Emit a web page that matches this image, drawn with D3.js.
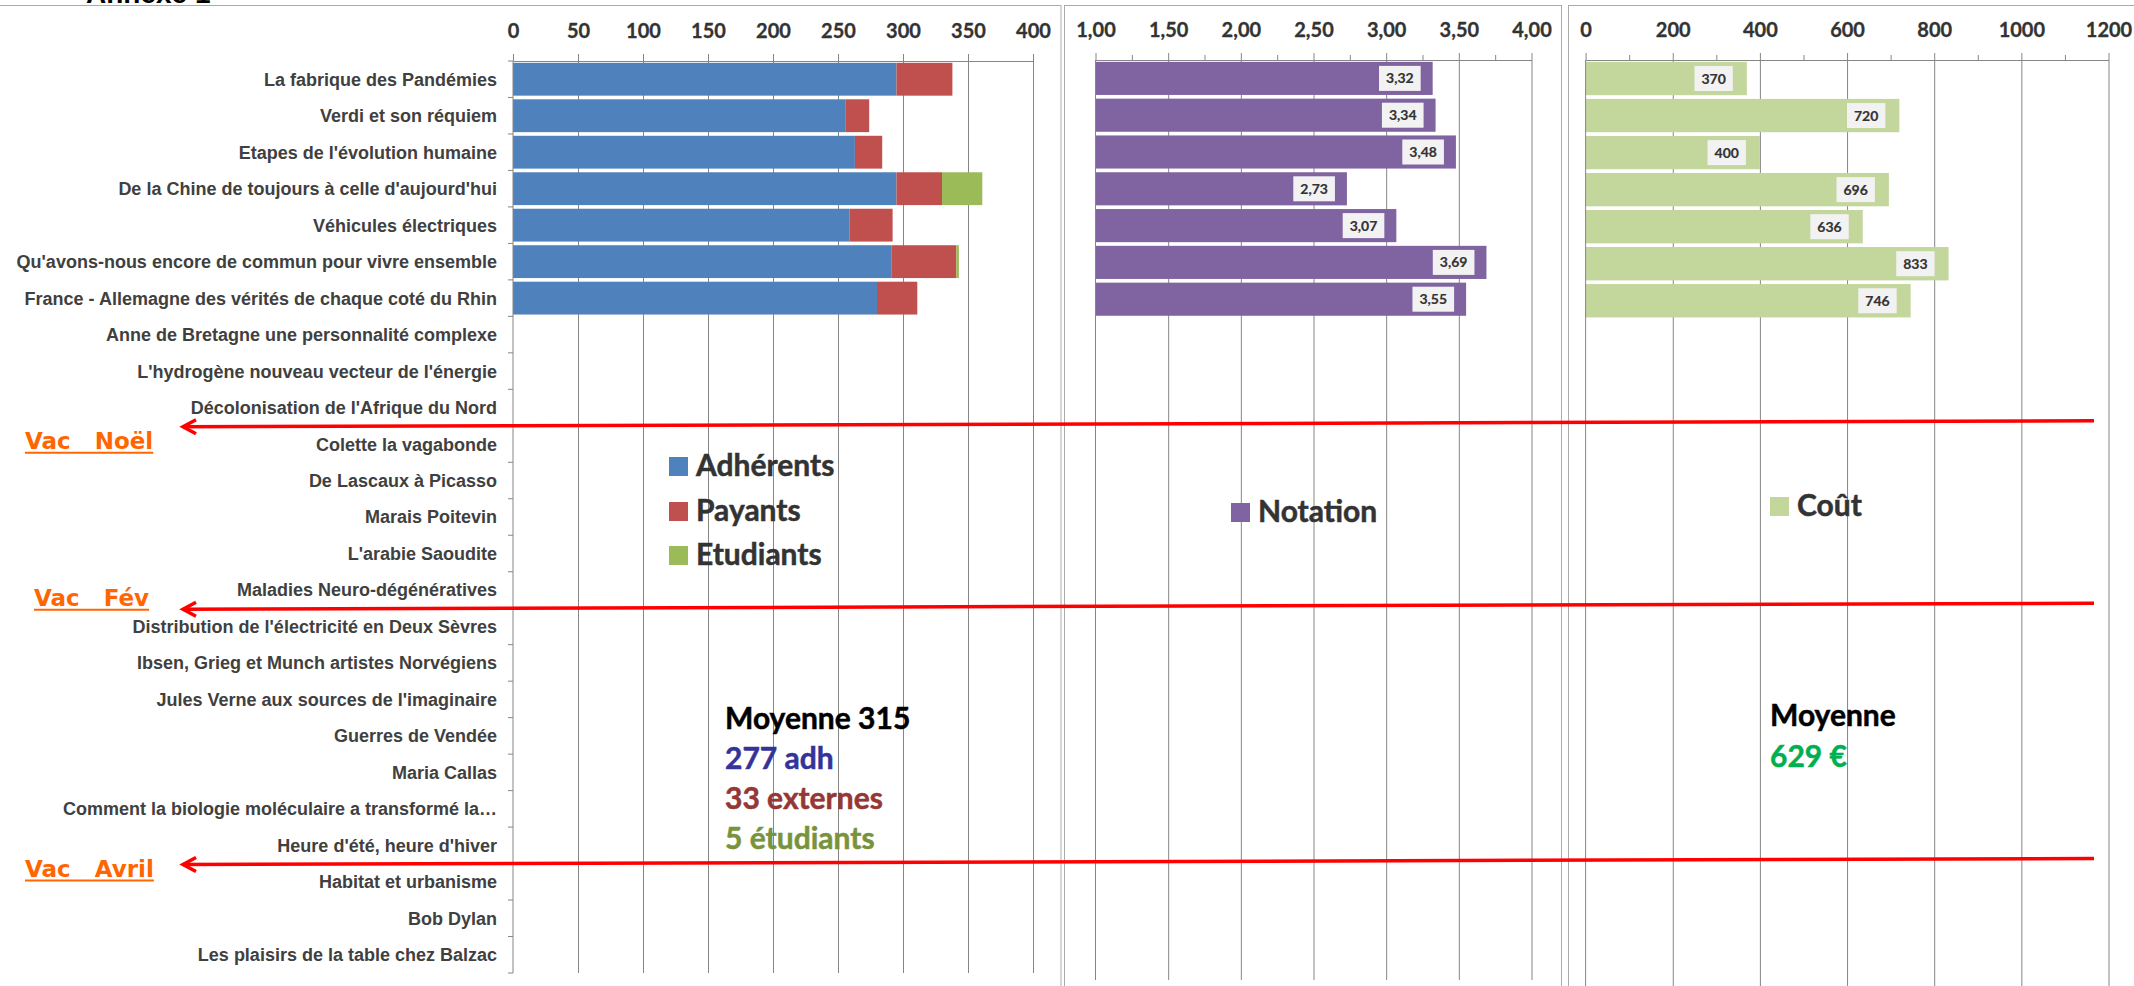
<!DOCTYPE html>
<html>
<head>
<meta charset="utf-8">
<script src="https://cdn.jsdelivr.net/npm/d3@7"></script>
<style>
body { margin: 0; background: #fff; }
svg { display: block; }
.cat text { font-family: "Liberation Sans", Arial, sans-serif; font-weight: bold; font-size: 18px; fill: #404040; }
.ticklab text { font-family: Lato, sans-serif; font-weight: bold; font-size: 20px; fill: #333; stroke: #333; stroke-width: 0.3px; }
.big { font-family: Lato, sans-serif; font-weight: bold; font-size: 30px; stroke-width: 0.5px; }
.datalab { font-family: Lato, sans-serif; font-weight: bold; font-size: 14px; fill: #333; stroke: #333; stroke-width: 0.2px; }
.vac { font-family: "DejaVu Sans", sans-serif; font-weight: bold; font-size: 23px; fill: #ff6600; white-space: pre; }
</style>
</head>
<body>
<div id="chart"></div>
<script>
// categories (conferences), top to bottom
var categories = [
  "La fabrique des Pandémies",
  "Verdi et son réquiem",
  "Etapes de l'évolution humaine",
  "De la Chine de toujours à celle d'aujourd'hui",
  "Véhicules électriques",
  "Qu'avons-nous encore de commun pour vivre ensemble",
  "France - Allemagne des vérités de chaque coté du Rhin",
  "Anne de Bretagne une personnalité complexe",
  "L'hydrogène nouveau vecteur de l'énergie",
  "Décolonisation de l'Afrique du Nord",
  "Colette la vagabonde",
  "De Lascaux à Picasso",
  "Marais Poitevin",
  "L'arabie Saoudite",
  "Maladies Neuro-dégénératives",
  "Distribution de l'électricité en Deux Sèvres",
  "Ibsen, Grieg et Munch artistes Norvégiens",
  "Jules Verne aux sources de l'imaginaire",
  "Guerres de Vendée",
  "Maria Callas",
  "Comment la biologie moléculaire a transformé la…",
  "Heure d'été, heure d'hiver",
  "Habitat et urbanisme",
  "Bob Dylan",
  "Les plaisirs de la table chez Balzac"
];

// values for the conferences already held
var adherents = [295, 256, 263, 295, 259, 291, 280];
var payants   = [43, 18, 21, 35, 33, 50, 31];
var etudiants = [0, 0, 0, 31, 0, 2, 0];
var notation  = [3.32, 3.34, 3.48, 2.73, 3.07, 3.69, 3.55];
var cout      = [370, 720, 400, 696, 636, 833, 746];

// tick values
var ticks1 = [0, 50, 100, 150, 200, 250, 300, 350, 400];
var ticks2 = [1, 1.5, 2, 2.5, 3, 3.5, 4];
var minor2 = [1.25, 1.75, 2.25, 2.75, 3.25, 3.75];
var ticks3 = [0, 200, 400, 600, 800, 1000, 1200];
var minor3 = [100, 300, 500, 700, 900, 1100];

// school holidays, placed above these conferences
var vacations = ["Vac   Noël", "Vac   Fév", "Vac   Avril"];
var vacBefore = ["Colette la vagabonde", "Distribution de l'électricité en Deux Sèvres", "Habitat et urbanisme"];

var svgWidth = 2134, svgHeight = 986;
var gridColor = "#868686";
var frameColor = "#ababab";

var svg = d3.select("#chart").append("svg")
    .attr("width", svgWidth)
    .attr("height", svgHeight);

// page title, cut off at the top
svg.append("text")
    .attr("x", 86).attr("y", 3)
    .style("font-family", "Liberation Sans, Arial, sans-serif")
    .style("font-weight", "bold")
    .style("font-size", "28px")
    .style("fill", "#000")
    .text("Annexe 1");

// chart frames
[[-2, 1063], [1064.5, 497], [1568.5, 600]].forEach(function(f) {
  svg.append("rect")
      .attr("x", f[0]).attr("y", 5.5)
      .attr("width", f[1]).attr("height", 1100)
      .style("fill", "none")
      .style("stroke", frameColor)
      .style("stroke-width", 1);
});

var fmtComma = function(d) { return d3.format(".2f")(d).replace(".", ","); };

function makePanel(p) {
  var x = d3.scaleLinear().domain(p.domain).range(p.xRange);
  var y = d3.scaleBand().domain(categories).range(p.yRange)
      .paddingInner(0.1).paddingOuter(0.05);
  var top = p.yRange[0];
  var h = p.yRange[1] - p.yRange[0];
  var g = svg.append("g");

  // gridlines
  g.append("g")
      .attr("transform", `translate(0, ${top})`)
      .call(d3.axisTop(x).tickValues(p.major.slice(1)).tickSize(-h).tickFormat(""))
      .call(function(s) { s.select(".domain").remove(); })
      .selectAll("line").style("stroke", gridColor);

  // minor ticks
  if (p.minor) {
    g.append("g")
        .attr("transform", `translate(0, ${top})`)
        .call(d3.axisTop(x).tickValues(p.minor).tickSize(5).tickFormat(""))
        .call(function(s) { s.select(".domain").remove(); })
        .selectAll("line").style("stroke", gridColor);
  }

  // major ticks + labels
  var ax = g.append("g")
      .attr("class", "ticklab")
      .attr("transform", `translate(0, ${top})`)
      .call(d3.axisTop(x).tickValues(p.major).tickSize(7).tickSizeOuter(0).tickPadding(16).tickFormat(p.fmt));
  ax.select(".domain").style("stroke", gridColor);
  ax.selectAll("line").style("stroke", gridColor);
  ax.selectAll("text").attr("dy", 0);

  var barLayer = g.append("g");

  // category axis line
  g.append("line")
      .attr("x1", x(p.domain[0])).attr("x2", x(p.domain[0]))
      .attr("y1", top).attr("y2", p.yRange[1])
      .style("stroke", gridColor);

  return { x: x, y: y, g: g, bars: barLayer };
}

// ---------- panel 1 : attendance ----------
var p1 = makePanel({ domain: [0, 400], xRange: [513, 1033], yRange: [61, 973], major: ticks1, fmt: d3.format("d") });

var table1 = adherents.map(function(v, i) {
  return { cat: categories[i], adh: v, pay: payants[i], etu: etudiants[i] };
});
var keys1 = ["adh", "pay", "etu"];
var colors1 = { adh: "#4f81bd", pay: "#c0504d", etu: "#9bbb59" };
var stacked = d3.stack().keys(keys1)(table1);

p1.bars.selectAll("g")
    .data(stacked)
    .enter().append("g")
    .style("fill", function(s) { return colors1[s.key]; })
    .selectAll("rect")
    .data(function(s) { return s; })
    .enter().append("rect")
    .attr("x", function(d) { return p1.x(d[0]); })
    .attr("width", function(d) { return p1.x(d[1]) - p1.x(d[0]); })
    .attr("y", function(d) { return p1.y(d.data.cat); })
    .attr("height", p1.y.bandwidth());

// category labels
var catAxis = p1.g.append("g")
    .attr("class", "cat")
    .attr("transform", `translate(${p1.x(0)}, 0)`)
    .call(d3.axisLeft(p1.y).tickSize(0).tickPadding(16));
catAxis.select(".domain").remove();
catAxis.selectAll("text").attr("dy", "0.36em");

// category boundary ticks
var gap1 = (p1.y.step() - p1.y.bandwidth()) / 2;
var bounds = categories.map(function(c) { return p1.y(c) - gap1; });
bounds.push(973);
p1.g.append("g").selectAll("line")
    .data(bounds)
    .enter().append("line")
    .attr("x1", p1.x(0) - 5).attr("x2", p1.x(0))
    .attr("y1", function(d) { return d; }).attr("y2", function(d) { return d; })
    .style("stroke", gridColor);

// ---------- panel 2 : rating ----------
var p2 = makePanel({ domain: [1, 4], xRange: [1095.5, 1531.5], yRange: [60, 980], major: ticks2, minor: minor2, fmt: fmtComma });

// ---------- panel 3 : cost ----------
var p3 = makePanel({ domain: [0, 1200], xRange: [1585.6, 2108.5], yRange: [60, 986], major: ticks3, minor: minor3, fmt: d3.format("d") });

function simpleBars(p, values, color, fmt, gap) {
  var rows = values.map(function(v, i) { return { cat: categories[i], v: v }; });
  var base = p.x.domain()[0];
  p.bars.selectAll("rect")
      .data(rows)
      .enter().append("rect")
      .attr("x", p.x(base))
      .attr("width", function(d) { return p.x(d.v) - p.x(base); })
      .attr("y", function(d) { return p.y(d.cat); })
      .attr("height", p.y.bandwidth())
      .style("fill", color);

  rows.forEach(function(d) {
    var lg = p.g.append("g");
    var box = lg.append("rect").style("fill", "#f2f2f2");
    var t = lg.append("text")
        .attr("class", "datalab")
        .attr("text-anchor", "middle")
        .attr("dy", "0.36em")
        .text(fmt(d.v));
    var w = t.node().getComputedTextLength() + 14;
    var cx = p.x(d.v) - gap - w / 2;
    var cy = p.y(d.cat) + p.y.bandwidth() / 2;
    t.attr("x", cx).attr("y", cy);
    box.attr("x", cx - w / 2).attr("y", cy - 12.5).attr("width", w).attr("height", 25);
  });
}

simpleBars(p2, notation, "#8064a2", fmtComma, 12);
simpleBars(p3, cout, "#c3d69b", d3.format("d"), 14);

// ---------- legends ----------
function legendItem(x, y, color, label) {
  svg.append("rect")
      .attr("x", x).attr("y", y - 19)
      .attr("width", 19).attr("height", 19)
      .style("fill", color);
  svg.append("text")
      .attr("class", "big")
      .attr("x", x + 27).attr("y", y)
      .style("fill", "#333").style("stroke", "#333")
      .text(label);
}
legendItem(669, 476, colors1.adh, "Adhérents");
legendItem(669, 521, colors1.pay, "Payants");
legendItem(669, 565, colors1.etu, "Etudiants");
legendItem(1231, 522, "#8064a2", "Notation");
legendItem(1770, 516, "#c3d69b", "Coût");

// ---------- averages ----------
var mAdh = d3.mean(adherents), mPay = d3.mean(payants), mEtu = d3.mean(etudiants);
var mCout = d3.mean(cout);
var avgLines = [
  { t: "Moyenne " + Math.round(mAdh + mPay + mEtu), c: "#000" },
  { t: Math.round(mAdh) + " adh", c: "#333399" },
  { t: Math.round(mPay) + " externes", c: "#953735" },
  { t: Math.round(mEtu) + " étudiants", c: "#77933c" }
];
avgLines.forEach(function(l, i) {
  svg.append("text").attr("class", "big")
      .attr("x", 725).attr("y", 729 + i * 40)
      .style("fill", l.c).style("stroke", l.c).text(l.t);
});
svg.append("text").attr("class", "big")
    .attr("x", 1770).attr("y", 726).style("fill", "#000").style("stroke", "#000").text("Moyenne");
svg.append("text").attr("class", "big")
    .attr("x", 1770).attr("y", 767).style("fill", "#00b050").style("stroke", "#00b050").text(Math.round(mCout) + " €");

// ---------- holiday arrows ----------
var vacLayout = [{ x: 25, dy: 23 }, { x: 34, dy: -2.5 }, { x: 25, dy: 13 }];
vacations.forEach(function(v, i) {
  var b = p1.y(vacBefore[i]) - gap1;
  var x0 = 183, x1 = 2094;
  svg.append("line")
      .attr("x1", x0).attr("y1", b + 1)
      .attr("x2", x1).attr("y2", b - 5)
      .style("stroke", "#ff0000").style("stroke-width", 3.5);
  svg.append("path")
      .attr("d", `M${x0 + 13},${b - 6} L${x0},${b + 1} L${x0 + 13},${b + 8}`)
      .style("fill", "none").style("stroke", "#ff0000").style("stroke-width", 3.5);

  var t = svg.append("text").attr("class", "vac")
      .attr("x", vacLayout[i].x).attr("y", b + vacLayout[i].dy)
      .text(v);
  var w = t.node().getComputedTextLength();
  svg.append("line")
      .attr("x1", vacLayout[i].x).attr("x2", vacLayout[i].x + w)
      .attr("y1", b + vacLayout[i].dy + 4).attr("y2", b + vacLayout[i].dy + 4)
      .style("stroke", "#ff6600").style("stroke-width", 2);
});
</script>
</body>
</html>
